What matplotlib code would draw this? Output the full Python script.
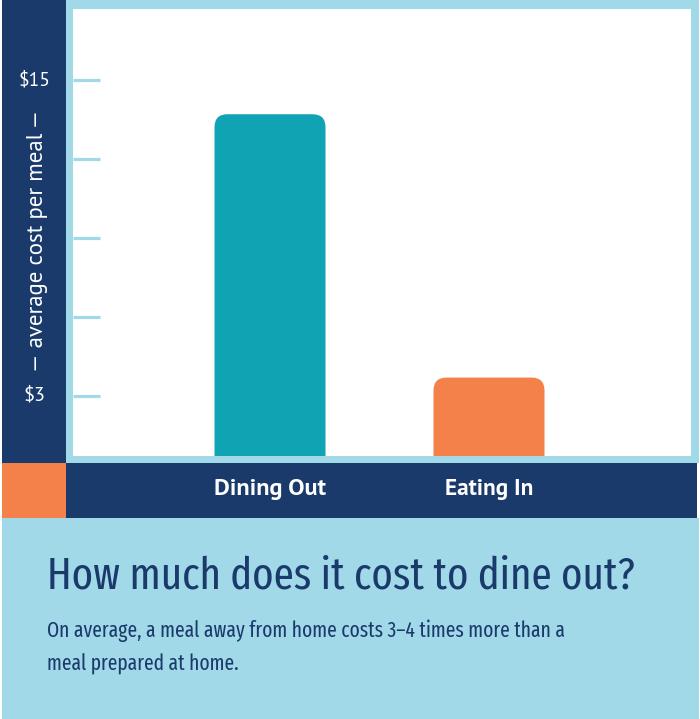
import matplotlib
matplotlib.use("Agg")
import matplotlib.pyplot as plt
from matplotlib.patches import Rectangle, FancyBboxPatch

# ---- data ----
categories = ["Dining Out", "Eating In"]
values = [13.7, 3.7]
tick_values = [3, 6, 9, 12, 15]
tick_labels = {3: "$3", 15: "$15"}
y_label = "— average cost per meal —"
title = "How much does it cost to dine out?"
subtitle_lines = ["On average, a meal away from home costs 3–4 times more than a",
                  "meal prepared at home."]

# ---- styles ----
NAVY = "#1a3a6b"
TEAL = "#10a3b4"
ORANGE = "#f4804a"
LIGHT = "#a1d9e8"
bar_colors = [TEAL, ORANGE]
COND = ["Fira Sans Extra Condensed", "PT Sans Narrow", "DejaVu Sans"]
LABF = ["PT Sans", "Open Sans", "DejaVu Sans"]

W, H = 700, 719
fig = plt.figure(figsize=(W / 100, H / 100), dpi=100)
fig.patch.set_facecolor("white")
renderer = fig.canvas.get_renderer()

def frac(x, y, w, h):
    return (x / W, 1 - (y + h) / H, w / W, h / H)

def add_rect(x, y, w, h, color):
    l, b, ww, hh = frac(x, y, w, h)
    fig.patches.append(Rectangle((l, b), ww, hh, transform=fig.transFigure,
                                 facecolor=color, edgecolor="none", zorder=0))

def fit(t, target, along="w"):
    for _ in range(3):
        bb = t.get_window_extent(renderer=renderer)
        cur = bb.width if along == "w" else bb.height
        t.set_fontsize(t.get_fontsize() * target / cur)
    return t

# background blocks
add_rect(2, 0, 64, 463, NAVY)        # left navy band
add_rect(2, 463, 64, 55, ORANGE)     # orange square
add_rect(66, 0, 633, 463, LIGHT)     # light frame
add_rect(66, 463, 631, 55, NAVY)     # bottom navy band
add_rect(2, 518, 697, 201, LIGHT)    # bottom info panel

# plot axes (white inner area)
ax = fig.add_axes(frac(73, 9, 618, 447), zorder=2)
ax.set_facecolor("white")
for s in ax.spines.values():
    s.set_visible(False)
ax.set_xticks([])
ax.set_yticks([])

px_per_unit_x = 219.0
px_per_dollar = 26.33
ax.set_xlim(0 - (270 - 73) / px_per_unit_x, 1 + (691 - 489) / px_per_unit_x)
y_bottom = 3 - (456 - 396) / px_per_dollar
ax.set_ylim(y_bottom, 15 + (80 - 9) / px_per_dollar)

bar_w = 111 / px_per_unit_x
rx = 13 / px_per_unit_x
aspect = px_per_unit_x / px_per_dollar
for i, (v, c) in enumerate(zip(values, bar_colors)):
    base = y_bottom - 2
    ax.add_patch(FancyBboxPatch((i - bar_w / 2, base), bar_w, v - base,
                                boxstyle=f"round,pad=0,rounding_size={rx}",
                                mutation_aspect=aspect,
                                facecolor=c, edgecolor="none", zorder=2))

# tick marks
ax.hlines(tick_values, 0, 27 / 618, transform=ax.get_yaxis_transform(),
          colors=LIGHT, linewidth=2.3, zorder=3, clip_on=False)

inv = fig.transFigure.inverted()

# tick labels in left band
for t, lab in tick_labels.items():
    yp = ax.transData.transform((0, t))[1]
    yf = inv.transform((0, yp))[1]
    txt = fig.text(34 / W, yf, lab, color="white", fontsize=13,
                   ha="center", va="center", family=LABF)
    fit(txt, 32 if lab == "$15" else 22)

# y label
yl = fig.text(38 / W, 1 - 241 / H, y_label, color="white", fontsize=12,
              rotation=90, ha="center", va="center", family=LABF)
fit(yl, 263, along="h")

# category labels
cat_widths = [112, 89]
for i, cat in enumerate(categories):
    xp = ax.transData.transform((i, 0))[0]
    xf = inv.transform((xp, 0))[0]
    txt = fig.text(xf, 1 - 489 / H, cat, color="white", fontsize=14,
                   fontweight="bold", ha="center", va="center", family=LABF)
    fit(txt, cat_widths[i])

# title and subtitle
tt = fig.text(47 / W, 1 - 577 / H, title, color=NAVY, fontsize=33,
              ha="left", va="center", family=COND)
fit(tt, 588)
s1 = fig.text(47 / W, 1 - 631 / H, subtitle_lines[0], color=NAVY, fontsize=15,
              ha="left", va="center", family=COND)
fit(s1, 518)
fig.text(47 / W, 1 - 664 / H, subtitle_lines[1], color=NAVY,
         fontsize=s1.get_fontsize(), ha="left", va="center", family=COND)

fig.savefig("out.png", dpi=100, facecolor="white")
